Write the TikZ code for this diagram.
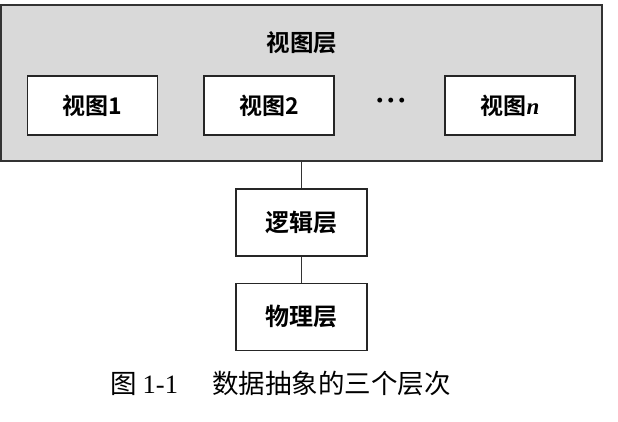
\documentclass[tikz,border=0pt]{standalone}
\usepackage{fontspec}
\newfontfamily\cjkbold{Noto Sans CJK SC Bold}
\newfontfamily\cjk{Noto Sans CJK SC}
\newfontfamily\latinserif{Liberation Serif}
\begin{document}
\begin{tikzpicture}[x=1pt,y=-1pt,
  layerbox/.style={draw=black!80, line width=1.2pt, fill=black!15, minimum width=601pt, minimum height=156pt, inner sep=0pt},
  viewbox/.style={draw=black!85, line width=1.2pt, fill=white, minimum width=130pt, minimum height=59pt, inner sep=0pt, font=\cjkbold\fontsize{23}{23}\selectfont},
  levelbox/.style={draw=black!85, line width=1.1pt, fill=white, minimum width=131pt, minimum height=67pt, inner sep=0pt, font=\cjkbold\fontsize{24}{24}\selectfont},
  titletext/.style={font=\cjkbold\fontsize{23.5}{23.5}\selectfont, inner sep=0pt},
  conn/.style={draw=black!80, line width=1pt}]
\useasboundingbox (0,0) rectangle (618,421);
\node[layerbox] (viewlayer) at (301.5,83) {};
\node[titletext] (viewtitle) at (302,43) {视图层};
\node[viewbox] (v1) at (92.5,105.5) {视图1};
\node[viewbox] (v2) at (269,105.5) {视图2};
\node[inner sep=0pt, font=\latinserif\bfseries\fontsize{30}{30}\selectfont] (dots) at (391,104) {·\kern1pt·\kern1pt·};
\node[viewbox] (vn) at (510,105.5) {视图{\latinserif\bfseries\itshape n}};
\node[levelbox] (logic) at (301.5,222.5) {逻辑层};
\node[levelbox] (phys) at (301.5,317) {物理层};
\draw[conn] (viewlayer.south -| logic.north) -- (logic.north);
\draw[conn] (logic.south) -- (phys.north);
\node[anchor=west, inner sep=0pt, font=\cjk\fontsize{26.5}{26.5}\selectfont] (caption) at (110,383) {图\hspace{6pt}{\latinserif 1-1}\hspace{34pt}数据抽象的三个层次};
\end{tikzpicture}
\end{document}
